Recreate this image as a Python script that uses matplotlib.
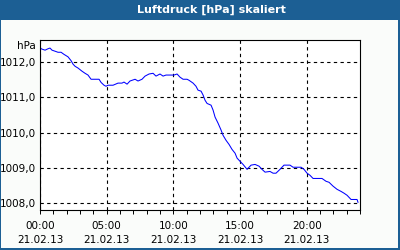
import matplotlib.pyplot as plt
from matplotlib.patches import Rectangle
from matplotlib.ticker import MultipleLocator, FuncFormatter

# Stunden seit 00:00 und Luftdruck in hPa
stunden = [0.00, 0.15, 0.38, 0.60, 0.75, 0.90, 1.13, 1.35, 1.58, 1.80, 2.10, 2.33,
           2.48, 2.63, 2.85, 3.15, 3.38, 3.60, 3.83, 4.13, 4.43, 4.58, 4.80, 4.95,
           5.10, 5.48, 5.85, 6.15, 6.30, 6.53, 6.75, 7.13, 7.35, 7.65, 7.88, 8.18,
           8.48, 8.70, 9.00, 9.23, 9.45, 9.83, 10.05, 10.28, 10.50, 10.73, 11.03,
           11.18, 11.48, 11.70, 11.85, 12.08, 12.23, 12.38, 12.53, 12.83, 12.98,
           13.13, 13.35, 13.58, 13.73, 13.95, 14.18, 14.40, 14.63, 14.78, 15.00,
           15.23, 15.53, 15.83, 16.13, 16.43, 16.65, 16.88, 17.25, 17.48, 17.70,
           18.00, 18.30, 18.75, 18.98, 19.28, 19.58, 19.80, 20.03, 20.25, 20.48,
           21.15, 21.45, 21.68, 21.98, 22.28, 22.58, 22.80, 23.03, 23.33, 23.55,
           23.78, 23.85]
druck = [1012.41, 1012.38, 1012.35, 1012.39, 1012.41, 1012.35, 1012.32, 1012.29,
         1012.29, 1012.23, 1012.16, 1012.05, 1011.95, 1011.89, 1011.84, 1011.75,
         1011.69, 1011.64, 1011.52, 1011.52, 1011.52, 1011.43, 1011.35, 1011.32,
         1011.35, 1011.35, 1011.41, 1011.41, 1011.44, 1011.38, 1011.47, 1011.52,
         1011.47, 1011.52, 1011.61, 1011.67, 1011.69, 1011.61, 1011.67, 1011.61,
         1011.64, 1011.64, 1011.64, 1011.67, 1011.58, 1011.52, 1011.52, 1011.49,
         1011.41, 1011.32, 1011.21, 1011.18, 1011.07, 1010.92, 1010.83, 1010.78,
         1010.64, 1010.44, 1010.27, 1010.07, 1009.92, 1009.78, 1009.66, 1009.52,
         1009.41, 1009.27, 1009.18, 1009.09, 1008.95, 1009.07, 1009.09, 1009.04,
         1008.95, 1008.87, 1008.89, 1008.84, 1008.84, 1008.95, 1009.07, 1009.07,
         1009.01, 1009.01, 1009.01, 1008.95, 1008.84, 1008.78, 1008.69, 1008.69,
         1008.61, 1008.58, 1008.47, 1008.38, 1008.32, 1008.27, 1008.21, 1008.09,
         1008.09, 1008.09, 1008.01]
x_ticks = [0, 5, 10, 15, 20]
x_labels = ["00:00\n21.02.13", "05:00\n21.02.13", "10:00\n21.02.13",
            "15:00\n21.02.13", "20:00\n21.02.13"]
y_ticks = [1008, 1009, 1010, 1011, 1012]

blau = "#1c5f94"
hg = "#fafcfa"
plt.rcParams['font.family'] = 'DejaVu Sans'

fig = plt.figure(figsize=(4, 2.5), dpi=100, facecolor=blau)
fig.patches.append(Rectangle((1/400, 2/250), 397/400, 228/250,
                             transform=fig.transFigure, facecolor=hg,
                             edgecolor='none', zorder=-5))
fig.text(211/400, 1 - 10/250, "Luftdruck [hPa] skaliert", color='white',
         fontsize=8, fontweight='bold', ha='center', va='center')

ax = fig.add_axes([40/400, 40/250, 320/400, 170/250])
ax.set_zorder(5)
ax.set_facecolor('white')
ax.plot(stunden, druck, color='#0000ff', lw=0.75)
ax.set_xlim(0, 24)
ax.set_ylim(1007.79, 1012.64)

ax.set_xticks(x_ticks)
ax.set_xticklabels(x_labels, linespacing=1.45)
ax.xaxis.set_minor_locator(MultipleLocator(1))
ax.set_yticks(y_ticks)
ax.yaxis.set_major_formatter(FuncFormatter(lambda v, p: f"{v:.1f}".replace('.', ',')))
ax.tick_params(axis='x', which='both', direction='out', length=3, width=0.7,
               labelsize=7.5, pad=5)
ax.tick_params(axis='y', length=0, labelsize=7.5, pad=3)
ax.grid(True, which='major', color='black', linestyle=(0, (3, 3)), linewidth=0.8)
for s in ax.spines.values():
    s.set_linewidth(0.8)
ax.text(-0.012, 1 - 6/170, "hPa", transform=ax.transAxes, ha='right',
        va='center', fontsize=7.5)

fig.savefig("out.png", dpi=100, facecolor=blau)
